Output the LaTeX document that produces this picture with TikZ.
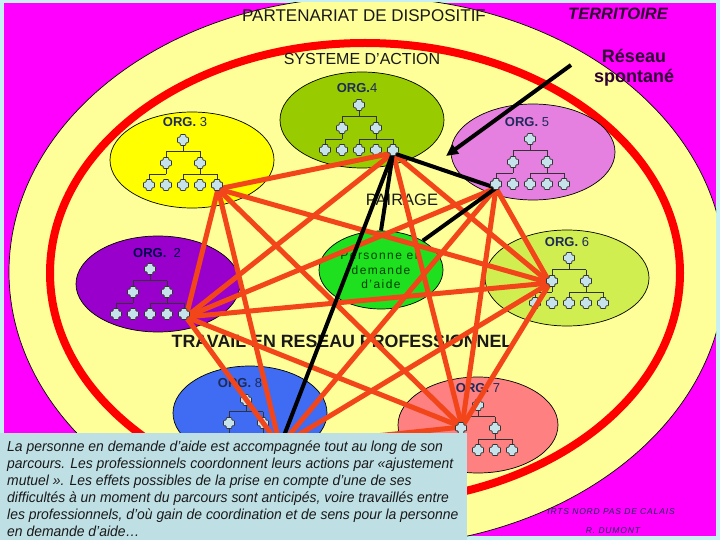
\documentclass[tikz,border=0pt]{standalone}
\usepackage{fontspec}
\setmainfont{Liberation Sans}
\newfontfamily\boxfont[FakeStretch=0.96]{Liberation Sans}
\newfontfamily\spacedfont[LetterSpace=12]{Liberation Sans}
\newfontfamily\smallspaced[LetterSpace=10]{Liberation Sans}
\usetikzlibrary{shapes.geometric,arrows.meta}
\definecolor{bgcyan}{HTML}{C8F0F4}
\definecolor{magent}{HTML}{FF00FF}
\definecolor{paleyellow}{HTML}{FFFF99}
\definecolor{ringred}{HTML}{FF0000}
\definecolor{netred}{HTML}{F2461A}
\definecolor{oiii}{HTML}{FFFF00}
\definecolor{oiv}{HTML}{99CC00}
\definecolor{ov}{HTML}{E680E0}
\definecolor{oii}{HTML}{9900CC}
\definecolor{ovi}{HTML}{D0EE50}
\definecolor{oviii}{HTML}{3F6CF2}
\definecolor{ovii}{HTML}{FF8080}
\definecolor{pers}{HTML}{1EE01E}
\definecolor{crossfill}{HTML}{C6E2EA}
\definecolor{boxblue}{HTML}{BEDFE4}
\definecolor{orgtext}{HTML}{1E2A5A}
\definecolor{darkpurple}{HTML}{2E0034}
\tikzset{
  treeline/.style={draw=black!80, line width=0.7pt},
  crossmark/.pic={\filldraw[fill=crossfill,draw=black!80,line width=0.7pt,rounded corners=0.8pt]
    (-2.8,-5.5) -- (2.8,-5.5) -- (2.8,-2.8) -- (5.5,-2.8) -- (5.5,2.8) -- (2.8,2.8) -- (2.8,5.5)
    -- (-2.8,5.5) -- (-2.8,2.8) -- (-5.5,2.8) -- (-5.5,-2.8) -- (-2.8,-2.8) -- cycle;},
  orgchart/.pic={
    \draw[treeline] (0,0) -- (0,11.5) (-17,11.5) -- (17,11.5) (-17,11.5) -- (-17,23) (17,11.5) -- (17,23)
      (-17,23) -- (-17,34) (-34,34) -- (-17,34) (-34,34) -- (-34,45)
      (17,23) -- (17,34) (0,34) -- (34,34) (0,34) -- (0,45) (34,34) -- (34,45);
    \foreach \px/\py in {0/0,-17/23,17/23,-34/45,-17/45,0/45,17/45,34/45} \pic at (\px,\py) {crossmark};
  },
  orgell/.style={ellipse, draw=black, line width=0.7pt, inner sep=0pt, minimum width=164pt, minimum height=96pt},
  orglabel/.style={font=\fontsize{13}{15}\selectfont, text=orgtext, inner sep=0pt},
  redline/.style={draw=netred, line width=5pt, line cap=round},
  blackline/.style={draw=black, line width=4pt},
  title/.style={inner sep=0pt, text=black!90},
  boxline/.style={anchor=base west, inner sep=0pt, font=\boxfont\itshape\fontsize{14.5}{17}\selectfont, text=black!90}
}
\begin{document}
\begin{tikzpicture}[x=1pt,y=-1pt]
\useasboundingbox (0,0) rectangle (720,540);
% background
\fill[bgcyan] (0,0) rectangle (720,540);
\fill[magent] (4,3) rectangle (716,536);
\begin{scope}
\clip (4,3) rectangle (716,536);
\filldraw[fill=paleyellow, draw=black, line width=0.7pt] (367,272) ellipse [x radius=358pt, y radius=275pt];
\end{scope}
\draw[ringred, line width=8pt] (365,273) ellipse [x radius=315pt, y radius=230pt];
% organisations
\node[orgell, fill=oiii] (org3) at (192,160) {};
\node[orgell, fill=oiv] (org4) at (362,120) {};
\node[orgell, fill=ov] (org5) at (533,152) {};
\node[orgell, fill=oii] (org2) at (158,284) {};
\node[orgell, fill=ovi] (org6) at (567,278) {};
\node[orgell, fill=oviii, minimum width=154pt, minimum height=94pt] (org8) at (250,413) {};
\node[orgell, fill=ovii, minimum width=160pt] (org7) at (478,425) {};
\node[ellipse, draw=black, line width=0.7pt, fill=pers, minimum width=124pt, minimum height=78pt, inner sep=0pt,
  align=center, text=black!75!green, font=\spacedfont\fontsize{12}{14.5}\selectfont] (person) at (381,270)
  {Personne en\\demande\\d’aide};
% org charts
\pic at (183,140) {orgchart};
\pic at (359,105) {orgchart};
\pic at (530,139) {orgchart};
\pic at (150,269) {orgchart};
\pic at (569,258) {orgchart};
\pic at (246,400) {orgchart};
\pic at (478,405) {orgchart};
% labels
\node[orglabel] (l4) at (357,88) {\textbf{ORG.}4};
\node[orglabel] (l3) at (185,122) {\textbf{ORG.} 3};
\node[orglabel] (l5) at (527,122) {\textbf{ORG.} 5};
\node[orglabel, text=black!70!blue] (l2) at (157,253) {\textbf{ORG.}\ \ 2};
\node[orglabel] (l6) at (567,242) {\textbf{ORG.} 6};
\node[orglabel] (l8) at (240,383) {\textbf{ORG.} 8};
\node[orglabel] (l7) at (478,388) {\textbf{ORG.} 7};
\node[title, font=\fontsize{17}{20}\selectfont] (t1) at (364,16) {PARTENARIAT DE DISPOSITIF};
\node[title, font=\bfseries\itshape\fontsize{16.5}{20}\selectfont, text=darkpurple] (t2) at (618,14) {TERRITOIRE};
\node[title, font=\fontsize{16}{19}\selectfont] (t3) at (362,59) {SYSTEME D’ACTION};
\node[title, font=\bfseries\fontsize{18}{19.5}\selectfont, text=darkpurple, align=center] (t4) at (634,68) {Réseau\\spontané};
\node[title, font=\fontsize{16.5}{19}\selectfont] (t5) at (402,200) {PAIRAGE};
\node[title, font=\bfseries\fontsize{17.8}{20}\selectfont] (t6) at (342,341) {TRAVAIL EN RESEAU PROFESSIONNEL};
% hubs
\coordinate (h2) at (186,317);
\coordinate (h3) at (218,189);
\coordinate (h4) at (393,153);
\coordinate (h5) at (496,188);
\coordinate (h6) at (550,283);
\coordinate (h7) at (462,427);
\coordinate (h8) at (280,446);
% red network
\draw[redline] (h3) -- (h4);
\draw[redline] (h3) -- (h2);
\draw[redline] (h3) -- (h6);
\draw[redline] (h3) -- (h7);
\draw[redline] (h3) -- (h8);
\draw[redline] (h2) -- (h4);
\draw[redline] (h2) -- (h5);
\draw[redline] (h2) -- (h6);
\draw[redline] (h2) -- (h7);
\draw[redline] (h2) -- (h8);
\draw[redline] (h4) -- (h6);
\draw[redline] (h4) -- (h7);
\draw[redline] (h5) -- (h6);
\draw[redline] (h5) -- (h7);
\draw[redline] (h5) -- (h8);
\draw[redline] (h6) -- (h7);
\draw[redline] (h6) -- (h8);
\draw[redline] (h7) -- (h8);
% black links
\draw[blackline] (h4) -- (h5);
\draw[blackline] (h4) -- (person.north);
\draw[blackline] (h4) -- (h8);
\draw[blackline] (h5) -- (person.35);
\coordinate (rs) at (571,65);
\coordinate (rt) at (446,156);
\draw[blackline, -{Triangle[length=12pt,width=11pt]}] (rs) -- (rt);
% hub crosses on top
\pic at (184,314) {crossmark};
\pic at (217,185) {crossmark};
\pic at (393,150) {crossmark};
\pic at (496,184) {crossmark};
\pic at (552,281) {crossmark};
\pic at (461,428) {crossmark};
% text box
\fill[boxblue] (0,433) rectangle (467,540);
\node[boxline] (b1) at (7,451.5) {La personne en demande d’aide est accompagnée tout au long de son};
\node[boxline] (b2) at (7,468.5) {parcours. Les professionnels coordonnent leurs actions par «ajustement};
\node[boxline] (b3) at (7,485.5) {mutuel ». Les effets possibles de la prise en compte d’une de ses};
\node[boxline] (b4) at (7,502.5) {difficultés à un moment du parcours sont anticipés, voire travaillés entre};
\node[boxline] (b5) at (7,519.5) {les professionnels, d’où gain de coordination et de sens pour la personne};
\node[boxline] (b6) at (7,536) {en demande d’aide…};
% credits
\node[inner sep=0pt, font=\smallspaced\itshape\fontsize{8.5}{10}\selectfont, text=orgtext] (c1) at (611,512) {IRTS NORD PAS DE CALAIS};
\node[inner sep=0pt, font=\smallspaced\itshape\fontsize{8.5}{10}\selectfont, text=orgtext] (c2) at (613,531) {R. DUMONT};
\end{tikzpicture}
\end{document}
